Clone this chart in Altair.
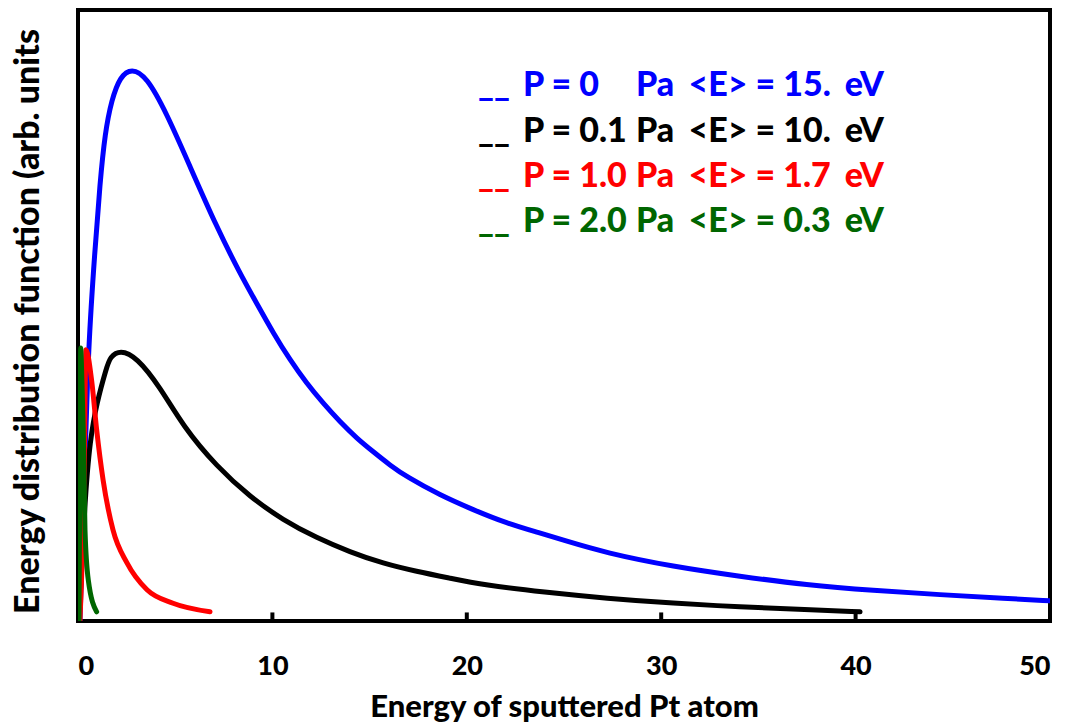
import altair as alt
import pandas as pd

# ---- data ----
blue_x = [0.1, 0.36, 0.53, 0.87, 1.13, 1.39, 1.73, 2.16, 2.76, 3.53, 4.56, 5.76, 7.13,
          8.33, 9.19, 10.05, 10.91, 11.76, 12.62, 13.48, 14.34, 15.19, 16.05, 16.91, 18.62,
          20.33, 22.05, 23.77, 24.79, 27.2, 30.62, 34.05, 37.48, 40.91, 44.34, 47.77, 50.0]
blue_y = [0, 25.9, 44.9, 60.7, 71.7, 79.9, 85.3, 89.1, 90.5, 89.1, 83.1, 74.4, 64.5,
          56.9, 52.0, 47.1, 42.7, 38.9, 35.6, 32.6, 29.9, 27.7, 25.5, 23.6, 20.6,
          18.2, 16.0, 14.4, 13.4, 11.1, 8.9, 7.3, 5.9, 5.0, 4.3, 3.7, 3.3]

black_x = [0.05, 0.36, 0.62, 0.96, 1.48, 1.65, 2.16, 3.02, 4.22, 5.42, 7.13, 8.85, 10.56,
           12.28, 13.99, 15.7, 17.42, 19.14, 20.85, 24.0, 27.2, 30.62, 34.05, 37.48, 40.23]
black_y = [0, 20.3, 29.6, 35.7, 41.6, 43.2, 44.4, 43.2, 38.3, 31.8, 25.3, 20.3, 16.5,
           13.6, 11.3, 9.4, 8.1, 7.0, 5.9, 4.7, 3.7, 2.9, 2.3, 1.9, 1.5]

red_x = [0.1, 0.31, 0.41, 0.70, 0.96, 1.29, 1.80, 2.52, 3.55, 4.89, 6.79]
red_y = [0, 23, 44.4, 39.4, 31.3, 23.1, 14.9, 9.5, 5.1, 2.9, 1.5]

green_x = [0.05, 0.1, 0.14, 0.2, 0.27, 0.36, 0.53, 0.96]
green_y = [0, 28, 44.7, 39.4, 31.3, 14.9, 6.7, 1.5]

series_names = ["P = 0", "P = 0.1", "P = 1.0", "P = 2.0"]
series_colors = ["#0000FF", "#000000", "#FF0000", "#006600"]
series_interp = ["basis", "basis", "monotone", "monotone"]
mean_energy = ["<E> = 15.", "<E> = 10.", "<E> = 1.7", "<E> = 0.3"]

x_ticks = [0, 10, 20, 30, 40, 50]
inner_ticks = [10, 20, 30, 40]

FONT = "Lato"

rows = []
for name, xs, ys in zip(series_names, [blue_x, black_x, red_x, green_x],
                        [blue_y, black_y, red_y, green_y]):
    for i, (a, b) in enumerate(zip(xs, ys)):
        rows.append({"series": name, "E": a, "f": b, "i": i})
df = pd.DataFrame(rows)

xscale = alt.Scale(domain=[0, 50], nice=False, zero=False)
yscale = alt.Scale(domain=[0, 100], nice=False)

base = alt.Chart(df)
layers = []
for name, col, interp in zip(series_names, series_colors, series_interp):
    layers.append(
        base.transform_filter(alt.datum.series == name)
        .mark_line(color=col, strokeWidth=5, interpolate=interp, strokeCap="round", clip=True)
        .encode(
            x=alt.X("E:Q", scale=xscale,
                    axis=alt.Axis(values=x_ticks, title="Energy of sputtered Pt atom",
                                  grid=False, ticks=False, tickSize=0, domain=False,
                                  labelFont=FONT, labelFontSize=27, labelFontWeight=900,
                                  labelColor="black", labelPadding=32,
                                  titleFont=FONT, titleFontSize=31, titleFontWeight=900,
                                  titleColor="black", titlePadding=13)),
            y=alt.Y("f:Q", scale=yscale,
                    axis=alt.Axis(title="Energy distribution function (arb. units",
                                  labels=False, ticks=False, tickSize=0, grid=False, domain=False,
                                  titleFont=FONT, titleFontSize=34, titleFontWeight=900,
                                  titleColor="black", titlePadding=33, titleY=311)),
            order="i:Q",
        )
    )

# inward ticks on the x axis
tick_df = pd.DataFrame({"E": inner_ticks, "f0": [0] * 4, "f1": [1.4] * 4})
ticks = alt.Chart(tick_df).mark_rule(color="black", strokeWidth=4).encode(
    x=alt.X("E:Q", scale=xscale), y=alt.Y("f0:Q", scale=yscale), y2="f1:Q")

# legend text (in data coordinates)
leg_y = [85.9, 78.4, 71.0, 63.7]
leg_rows = []
for k in range(4):
    leg_rows.append({"E": 20.58, "f": leg_y[k], "t": "__", "c": series_colors[k], "a": "left"})
    leg_rows.append({"E": 22.89, "f": leg_y[k], "t": series_names[k], "c": series_colors[k], "a": "left"})
    leg_rows.append({"E": 28.7, "f": leg_y[k], "t": "Pa", "c": series_colors[k], "a": "left"})
    leg_rows.append({"E": 31.4, "f": leg_y[k], "t": mean_energy[k], "c": series_colors[k], "a": "left"})
    leg_rows.append({"E": 41.46, "f": leg_y[k], "t": "eV", "c": series_colors[k], "a": "right"})
leg_df = pd.DataFrame(leg_rows)

leg_left = alt.Chart(leg_df).transform_filter(alt.datum.a == "left").mark_text(
    font=FONT, fontSize=34, fontWeight=900, align="left", baseline="alphabetic"
).encode(x=alt.X("E:Q", scale=xscale), y=alt.Y("f:Q", scale=yscale),
         text="t:N", color=alt.Color("c:N", scale=None))
leg_right = alt.Chart(leg_df).transform_filter(alt.datum.a == "right").mark_text(
    font=FONT, fontSize=34, fontWeight=900, align="right", baseline="alphabetic"
).encode(x=alt.X("E:Q", scale=xscale), y=alt.Y("f:Q", scale=yscale),
         text="t:N", color=alt.Color("c:N", scale=None))

chart = alt.layer(*layers, ticks, leg_left, leg_right).properties(
    width=972, height=611,
    autosize=alt.AutoSizeParams(type="none"),
    padding={"left": 78, "top": 10, "right": 18, "bottom": 106},
    background="white",
).configure_view(stroke="black", strokeWidth=4)

chart.save("out.html", embed_options={"renderer": "svg", "actions": False})
